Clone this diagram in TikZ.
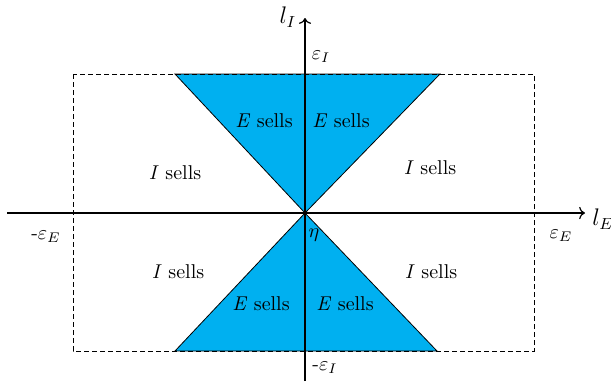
\documentclass[tikz,border=0pt]{standalone}
\usepackage{tikz}
\usetikzlibrary{arrows.meta, positioning}
\tikzset{every picture/.append style={semithick}}
\definecolor{sellblue}{RGB}{0,176,240}

\begin{document}
\begin{tikzpicture}[x=0.5pt, y=-0.5pt, >=To]
    \useasboundingbox (0,0) rectangle (611,382);

    % ---------------------------------------------------
    % 1. Corners of the region and of the cones
    % ---------------------------------------------------
    \coordinate (O) at (305,213);
    \coordinate (boxNW) at (73,74);
    \coordinate (boxSE) at (534,351);
    \coordinate (topL) at (175,74);
    \coordinate (topR) at (440,74);
    \coordinate (botL) at (175,351);
    \coordinate (botR) at (437,351);

    % Shaded cones
    \filldraw[fill=sellblue, draw=black, thin] (topL) -- (topR) -- (O) -- cycle;
    \filldraw[fill=sellblue, draw=black, thin] (botL) -- (botR) -- (O) -- cycle;

    % Dashed bounds
    \draw[thin, dash pattern=on 2.5pt off 1.5pt] (boxNW) rectangle (boxSE);

    % ---------------------------------------------------
    % 2. Axes
    % ---------------------------------------------------
    \coordinate (xstart) at (7,213);
    \coordinate (xend) at (585,213);
    \coordinate (ystart) at (305,381);
    \coordinate (yend) at (305,18);
    \draw[->] (xstart) -- (xend);
    \draw[->] (ystart) -- (yend);

    \node (lE) at (603,219) {\large$l_E$};
    \node (lI) at (288,17) {\large$l_I$};
    \node (epsE) at (561,236) {$\varepsilon_E$};
    \node (mepsE) at (46,237) {-$\varepsilon_E$};
    \node (epsI) at (321,57) {$\varepsilon_I$};
    \node (mepsI) at (325,368) {-$\varepsilon_I$};
    \node (eta) at (314,235) {$\eta$};

    % ---------------------------------------------------
    % 3. Who sells where
    % ---------------------------------------------------
    \node (Etl) at (264,121) {\textit{E} sells};
    \node (Etr) at (341,121) {\textit{E} sells};
    \node (Ebl) at (261,304) {\textit{E} sells};
    \node (Ebr) at (345,304) {\textit{E} sells};
    \node (Itl) at (175,173) {\textit{I} sells};
    \node (Itr) at (430,168) {\textit{I} sells};
    \node (Ibl) at (178,272) {\textit{I} sells};
    \node (Ibr) at (431,272) {\textit{I} sells};

\end{tikzpicture}
\end{document}
